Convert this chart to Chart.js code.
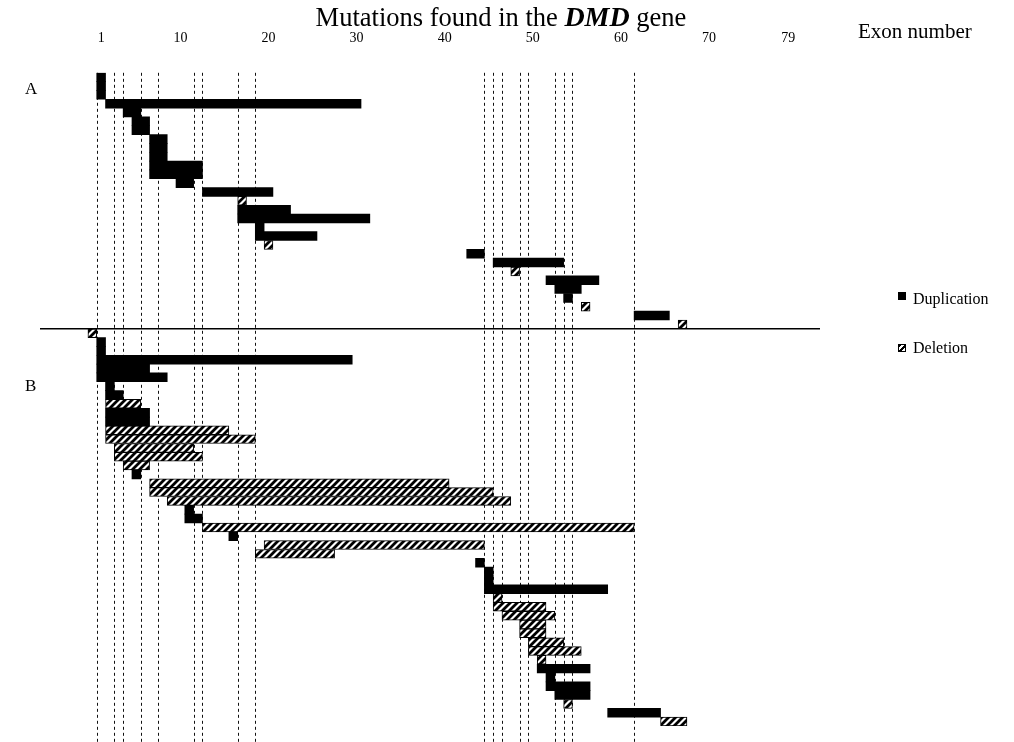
<!DOCTYPE html>
<html>
<head>
<meta charset="utf-8">
<title>Mutations found in the DMD gene</title>
<script src="https://cdn.jsdelivr.net/npm/chart.js@4.4.0/dist/chart.umd.min.js"></script>
<style>
  html, body { margin: 0; padding: 0; background: #fff; }
  #wrap { position: relative; width: 1014px; height: 742px; font-family: 'Liberation Serif', 'Times New Roman', serif; color: #000; }
  #wrap canvas { position: absolute; left: 0; top: 0; }
  .lbl { position: absolute; white-space: nowrap; line-height: 1; }
  #title { left: 0; width: 1002px; top: 3px; text-align: center; font-size: 26.5px; }
  #title b { font-style: italic; font-size: 28px; }
  #exon { left: 858px; top: 21px; font-size: 21px; }
  #panelA { left: 25px; top: 80px; font-size: 17px; }
  #panelB { left: 25px; top: 377px; font-size: 17px; }
  .key { position: absolute; left: 898px; width: 8px; height: 8px; box-sizing: border-box; }
  #keyDup { top: 292px; background: #000; }
  #keyDel { top: 344px; border: 1px solid #000;
    background: repeating-linear-gradient(135deg, #000 0 2px, #fff 2px 4px); }
  #txtDup { left: 913px; top: 291px; font-size: 16px; }
  #txtDel { left: 913px; top: 340px; font-size: 16px; }
</style>
</head>
<body>
<div id="wrap">
  <canvas id="c" width="1014" height="742"></canvas>
  <div class="lbl" id="title">Mutations found in the <b>DMD</b> gene</div>
  <div class="lbl" id="exon">Exon number</div>
  <div class="lbl" id="panelA">A</div>
  <div class="lbl" id="panelB">B</div>
  <div class="key" id="keyDup"></div><div class="lbl" id="txtDup">Duplication</div>
  <div class="key" id="keyDel"></div><div class="lbl" id="txtDel">Deletion</div>
</div>
<script>
// exon numbers shown on the top axis
const tickExons = [1, 10, 20, 30, 40, 50, 60, 70, 79];

// exons where the dashed breakpoint lines start
const breakpointExons = [1, 3, 4, 6, 8, 12, 13, 17, 19, 45, 46, 47, 49, 50, 53, 54, 55, 62];

// panel A: one row per patient, first and last exon involved
const panelAFirst = [1, 1, 1, 2, 4, 5, 5, 7, 7, 7, 7, 7, 10, 13, 17, 17, 17, 19, 19, 20, 43, 46, 48, 52, 53, 54, 56, 62, 67];
const panelALast  = [1, 1, 1, 30, 5, 6, 6, 8, 8, 8, 12, 12, 11, 20, 17, 22, 31, 19, 25, 20, 44, 53, 48, 57, 55, 54, 56, 65, 67];
const panelAType  = ['dup', 'dup', 'dup', 'dup', 'dup', 'dup', 'dup', 'dup', 'dup', 'dup', 'dup', 'dup', 'dup', 'dup',
                     'del', 'dup', 'dup', 'dup', 'dup', 'del', 'dup', 'dup', 'del', 'dup', 'dup', 'dup', 'del', 'dup', 'del'];

// panel B
const panelBFirst = [0, 1, 1, 1, 1, 1, 2, 2, 2, 2, 2, 2, 2, 3, 3, 4, 5, 7, 7, 9, 11, 11, 13, 16, 20, 19, 44, 45, 45, 45,
                     46, 46, 47, 49, 49, 50, 50, 51, 51, 52, 52, 53, 54, 59, 65];
const panelBLast  = [0, 1, 1, 29, 6, 8, 2, 3, 5, 6, 6, 15, 18, 11, 12, 6, 5, 40, 45, 47, 11, 12, 61, 16, 44, 27, 44, 45, 45, 58,
                     46, 51, 52, 51, 51, 53, 55, 51, 56, 52, 56, 56, 54, 64, 67];
const panelBType  = ['del', 'dup', 'dup', 'dup', 'dup', 'dup', 'dup', 'dup', 'del', 'dup', 'dup', 'del', 'del', 'del', 'del',
                     'del', 'dup', 'del', 'del', 'del', 'dup', 'dup', 'del', 'dup', 'del', 'del', 'dup', 'dup', 'dup', 'dup',
                     'del', 'del', 'del', 'del', 'del', 'del', 'del', 'del', 'dup', 'dup', 'dup', 'dup', 'del', 'dup', 'del'];

const rowLabels = panelAFirst.map((_, i) => 'A' + (i + 1)).concat(panelBFirst.map((_, i) => 'B' + (i + 1)));
const allFirst = panelAFirst.concat(panelBFirst);
const allLast = panelALast.concat(panelBLast);
const allType = panelAType.concat(panelBType);

// each exon n covers [n - 0.5, n + 0.5] on the x scale
function spans(kind) {
  return allFirst.map((f, i) => allType[i] === kind ? [f - 0.5, allLast[i] + 0.5] : null);
}

const canvas = document.getElementById('c');
const ctx = canvas.getContext('2d');

function makeHatch() {
  const t = document.createElement('canvas');
  t.width = 7; t.height = 7;
  const g = t.getContext('2d');
  g.fillStyle = '#fff';
  g.fillRect(0, 0, 7, 7);
  g.strokeStyle = '#000';
  g.lineWidth = 2.8;
  g.beginPath();
  g.moveTo(0, 7); g.lineTo(7, 0);
  g.moveTo(-1, 1); g.lineTo(1, -1);
  g.moveTo(6, 8); g.lineTo(8, 6);
  g.stroke();
  return ctx.createPattern(t, 'repeat');
}

// dashed breakpoint lines behind the bars, solid A/B divider over them
const guideLines = {
  id: 'guideLines',
  beforeDatasetsDraw(chart) {
    const { ctx, chartArea, scales: { x } } = chart;
    ctx.save();
    ctx.strokeStyle = '#111';
    ctx.lineWidth = 1;
    ctx.setLineDash([3, 3]);
    breakpointExons.forEach(e => {
      const px = Math.round(x.getPixelForValue(e - 0.5)) + 0.5;
      ctx.beginPath();
      ctx.moveTo(px, chartArea.top);
      ctx.lineTo(px, chart.height);
      ctx.stroke();
    });
    ctx.restore();
  },
  afterDatasetsDraw(chart) {
    const { ctx, chartArea, scales: { y } } = chart;
    const n = panelAFirst.length;
    const yy = (y.getPixelForValue(n - 1) + y.getPixelForValue(n)) / 2;
    ctx.save();
    ctx.strokeStyle = '#000';
    ctx.lineWidth = 1.5;
    ctx.beginPath();
    ctx.moveTo(chartArea.left, yy);
    ctx.lineTo(chartArea.right, yy);
    ctx.stroke();
    ctx.restore();
  }
};

new Chart(ctx, {
  type: 'bar',
  data: {
    labels: rowLabels,
    datasets: [
      {
        label: 'Duplication',
        data: spans('dup'),
        backgroundColor: '#000',
        borderWidth: 0,
        grouped: false,
        barPercentage: 1,
        categoryPercentage: 1
      },
      {
        label: 'Deletion',
        data: spans('del'),
        backgroundColor: makeHatch(),
        borderColor: '#000',
        borderWidth: 1,
        borderSkipped: false,
        grouped: false,
        barPercentage: 1,
        categoryPercentage: 1
      }
    ]
  },
  options: {
    indexAxis: 'y',
    responsive: false,
    animation: false,
    layout: { padding: { left: 40, right: 194, top: 4, bottom: 16 } },
    plugins: {
      legend: { display: false },
      tooltip: { enabled: false }
    },
    scales: {
      x: {
        type: 'linear',
        position: 'top',
        min: -5.94,
        max: 82.6,
        grid: { display: false, drawTicks: false },
        border: { display: false },
        afterBuildTicks: scale => { scale.ticks = tickExons.map(v => ({ value: v })); },
        ticks: {
          autoSkip: false,
          maxRotation: 0,
          padding: 26,
          color: '#000',
          font: { family: 'Liberation Serif', size: 14 }
        }
      },
      y: {
        display: false,
        grid: { display: false }
      }
    }
  },
  plugins: [guideLines]
});
</script>
</body>
</html>
